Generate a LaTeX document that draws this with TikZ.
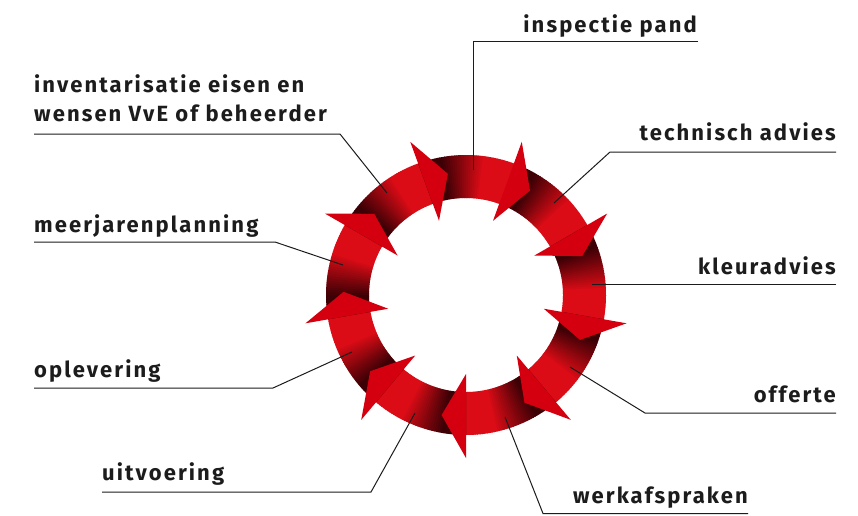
\documentclass[tikz,border=0pt]{standalone}
\usepackage{fontspec}
\setmainfont{Fira Sans}[LetterSpace=9.5]
\usetikzlibrary{calc}
\definecolor{dk}{HTML}{3C0005}
\definecolor{rd}{HTML}{DB0C16}
\definecolor{ah}{HTML}{D5000F}
\definecolor{ink}{HTML}{1C1C1C}
\tikzset{
  leader/.style={draw=ink, line width=1pt, line join=miter},
  lab/.style={text=ink, font=\fontsize{22}{29.4}\selectfont\bfseries, inner sep=0pt},
}
\begin{document}
\begin{tikzpicture}[x=1pt,y=-1pt]
\useasboundingbox (0,0) rectangle (858,515);
\fill[white] (0,0) rectangle (858,515);
\coordinate (C) at (466,295);
% ring segments with tangential gradient
\foreach \b in {20,60,...,340} {
  \foreach \t in {0,...,39} {
    \pgfmathtruncatemacro\p{min(100,max(0,(\t-9)/18*100))}
    \pgfmathsetmacro\aa{\b+\t-90}
    \pgfmathsetmacro\ab{\b+\t+1.3-90}
    \fill[rd!\p!dk] ($(C)+(\aa:140)$) arc[start angle=\aa, end angle=\ab, radius=140]
      -- ($(C)+(\ab:97)$) arc[start angle=\ab, end angle=\aa, radius=97] -- cycle;
  }
}
% arrowheads
\foreach \b in {20,60,...,340} {
  \fill[ah] ($(C)+(\b-90:79)$) -- ($(C)+(\b-90+11.5:122.5)$) -- ($(C)+(\b-90:163)$) -- cycle;
}
% labels
\node[lab, anchor=base east] (l1) at (697,32) {inspectie pand};
\node[lab, anchor=base east] (l2) at (836,140) {technisch advies};
\node[lab, anchor=base east] (l3) at (836,274) {kleuradvies};
\node[lab, anchor=base east] (l4) at (836,402) {offerte};
\node[lab, anchor=base east] (l5) at (748,503) {werkafspraken};
\node[lab, anchor=base west] (l6) at (102,480) {uitvoering};
\node[lab, anchor=base west] (l7) at (34,377) {oplevering};
\node[lab, anchor=base west] (l8) at (34,232) {meerjarenplanning};
\node[lab, anchor=base west] (l9) at (34,92) {\begin{tabular}[t]{@{}l@{}}inventarisatie eisen en\\wensen VvE of beheerder\end{tabular}};
% leader coordinates
\coordinate (u1a) at (698,41.7); \coordinate (u1b) at (473,41.7); \coordinate (p1) at (473,170);
\coordinate (u2a) at (836,152);  \coordinate (u2b) at (610,152);  \coordinate (p2) at (554,203);
\coordinate (u3a) at (836,284);  \coordinate (p3) at (592,284);
\coordinate (u4a) at (836,413);  \coordinate (u4b) at (645,413);  \coordinate (p4) at (570,367);
\coordinate (u5a) at (748,513.5);  \coordinate (u5b) at (543,513.5);  \coordinate (p5) at (505,417);
\coordinate (u6a) at (102,492);  \coordinate (u6b) at (371,492);  \coordinate (p6) at (415,413);
\coordinate (u7a) at (34,388);   \coordinate (u7b) at (273,388);  \coordinate (p7) at (352,352);
\coordinate (u8a) at (34,242);   \coordinate (u8b) at (275,242);  \coordinate (p8) at (343,265);
\coordinate (u9a) at (34,134);   \coordinate (u9b) at (340,134);  \coordinate (p9) at (387,193);
\draw[leader] (u1a) -- (u1b) -- (p1);
\draw[leader] (u2a) -- (u2b) -- (p2);
\draw[leader] (u3a) -- (p3);
\draw[leader] (u4a) -- (u4b) -- (p4);
\draw[leader] (u5a) -- (u5b) -- (p5);
\draw[leader] (u6a) -- (u6b) -- (p6);
\draw[leader] (u7a) -- (u7b) -- (p7);
\draw[leader] (u8a) -- (u8b) -- (p8);
\draw[leader] (u9a) -- (u9b) -- (p9);
\end{tikzpicture}
\end{document}
